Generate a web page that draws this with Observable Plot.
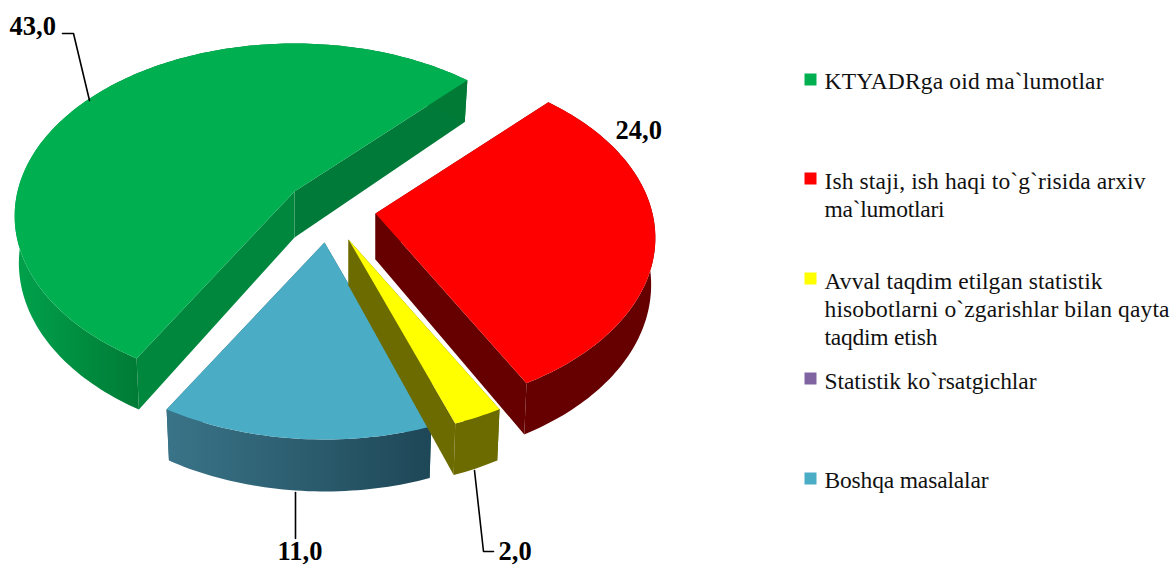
<!DOCTYPE html>
<html>
<head>
<meta charset="utf-8">
<style>html,body{margin:0;padding:0;background:#fff}svg{display:block}</style>
<script src="https://cdn.jsdelivr.net/npm/d3@7"></script>
<script src="https://cdn.jsdelivr.net/npm/@observablehq/plot@0.6"></script>
</head>
<body>
<div id="chart"></div>
<script>
// ---- data ----
const categories = ["KTYADRga oid ma`lumotlar", "Ish staji, ish haqi to`g`risida arxiv ma`lumotlari", "Avval taqdim etilgan statistik hisobotlarni o`zgarishlar bilan qayta taqdim etish", "Statistik ko`rsatgichlar", "Boshqa masalalar"];
const values = [43, 24, 2, 0, 11];
const valueLabels = ["43,0", "24,0", "2,0", null, "11,0"];
const topColors = ["#00B050", "#FF0000", "#FFFF00", "#8064A2", "#4BACC6"];
const legendRows = [
  ["KTYADRga oid ma`lumotlar"],
  ["Ish staji, ish haqi to`g`risida arxiv", "ma`lumotlari"],
  ["Avval taqdim etilgan statistik", "hisobotlarni o`zgarishlar bilan qayta", "taqdim etish"],
  ["Statistik ko`rsatgichlar"],
  ["Boshqa masalalar"]
];

// ---- layout and styling (not data) ----
const W = 1172, H = 565;
const R = 277, A = 169, K = 0.142;
const wallFill = ["url(#gGreen)", "#660000", "#6B6B00", "#4F3E66", "url(#gBlue)"];
const cutFill = [["#00873E", "#007A38"], ["#660000", "#660000"], ["#6B6B00", "#6B6B00"], ["#4F3E66", "#4F3E66"], ["#2A5F72", "#2A5F72"]];
const apex = [[294, 191], [375, 213], [348, 239], [340, 240], [324, 242]];
const drawOrder = [0, 1, 4, 2];
const pieStart = 210 * Math.PI / 180;

const arcs = d3.pie().sort(null).startAngle(pieStart).endAngle(pieStart + 2 * Math.PI)(values);

function project(i, a, bottom) {
  const t = a - Math.PI / 2, X = Math.cos(t), Y = Math.sin(t), s = 1 / (1 - K * Y);
  const px = R * X * s, py = A * Y * s;
  if (!bottom) return {x: apex[i][0] + px, y: apex[i][1] + py};
  return {x: apex[i][0] + px * 0.985, y: apex[i][1] + py + 46 + 6 * Y};
}
function arcPoints(i, bottom) {
  const {startAngle: a0, endAngle: a1} = arcs[i];
  const n = Math.max(2, Math.ceil((a1 - a0) / 0.02));
  return d3.range(n + 1).map((k) => project(i, a0 + (a1 - a0) * k / n, bottom));
}
const top0 = (i) => ({x: apex[i][0], y: apex[i][1]});
const bot0 = (i) => ({x: apex[i][0], y: apex[i][1] + 46});

const polygons = [];
for (const i of drawOrder) {
  const up = arcPoints(i, false), down = arcPoints(i, true);
  polygons.push({pts: [top0(i), up[up.length - 1], down[down.length - 1], bot0(i)], fill: cutFill[i][1]});
  polygons.push({pts: [top0(i), up[0], down[0], bot0(i)], fill: cutFill[i][0]});
  polygons.push({pts: [...up, ...down.slice().reverse()], fill: wallFill[i]});
  polygons.push({pts: [top0(i), ...up], fill: topColors[i]});
}

const legendY = [79, 178, 278, 378, 478];
const legendBase = [[88], [188, 216], [288, 316, 344], [388], [487]];
const legendEnd = [[1104], [1146, 945], [1103, 1170, 938], [1037], [989]];
const legendSquares = categories.map((c, i) => ({c, y: legendY[i], color: topColors[i]}));
const legendText = legendRows.flatMap((rows, i) => rows.map((t, j) => ({t, y: legendBase[i][j], len: legendEnd[i][j] - 825})));

const valuePos = [[9, 34], [615, 138], [498, 559], null, [277, 559]];
const valueText = valueLabels.map((t, i) => t && {t, x: valuePos[i][0], y: valuePos[i][1]}).filter(Boolean);
const leaders = [
  [{x: 62, y: 33}, {x: 73, y: 33}, {x: 89, y: 100}],
  [{x: 295, y: 492}, {x: 295, y: 538}],
  [{x: 474, y: 470}, {x: 483, y: 551}, {x: 493, y: 551}]
];

const gradients = () => d3.create("svg:defs").html(`
  <linearGradient id="gGreen" x1="0" x2="1" y1="0" y2="0">
    <stop offset="0" stop-color="#00A24C"/><stop offset="0.28" stop-color="#007A35"/><stop offset="1" stop-color="#007A35"/>
  </linearGradient>
  <linearGradient id="gBlue" x1="0" x2="1" y1="0" y2="0">
    <stop offset="0" stop-color="#3A7488"/><stop offset="1" stop-color="#1E4757"/>
  </linearGradient>`).node();

const chart = Plot.plot({
  width: W, height: H, margin: 0,
  x: {domain: [0, W], range: [0, W], axis: null},
  y: {domain: [0, H], range: [0, H], axis: null},
  style: {background: "#fff", fontFamily: "Liberation Serif"},
  marks: [
    gradients,
    ...polygons.map((p) => Plot.line(p.pts, {x: "x", y: "y", fill: p.fill, stroke: "none", curve: "linear-closed"})),
    ...leaders.map((l) => Plot.line(l, {x: "x", y: "y", stroke: "#000", strokeWidth: 1.6, curve: "linear"})),
    Plot.text(valueText, {x: "x", y: "y", text: "t", textAnchor: "start", lineAnchor: "bottom", fontSize: 26.5, fontWeight: "bold", fill: "#000", fontFamily: "Liberation Serif"}),
    Plot.dot(legendSquares, {x: () => 810, y: "y", symbol: "square", r: 6.77, fill: "color", stroke: "none"}),
    Plot.text(legendText, {x: () => 824, y: "y", text: "t", textAnchor: "start", lineAnchor: "bottom", fontSize: 23.5, fill: "#111", fontFamily: "Liberation Serif",
      render(index, scales, values, dimensions, context, next) {
        const g = next(index, scales, values, dimensions, context);
        d3.select(g).selectAll("text").each(function (i) {
          this.setAttribute("textLength", legendText[i].len);
        });
        return g;
      }})
  ],
  color: {type: "identity"}
});
document.getElementById("chart").appendChild(chart);
</script>
</body>
</html>
